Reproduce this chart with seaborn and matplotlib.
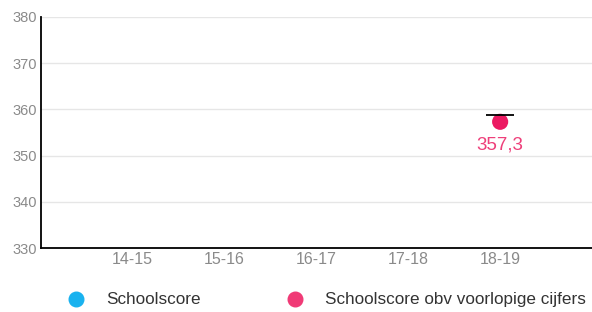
import numpy as np
import pandas as pd
import matplotlib.pyplot as plt
import seaborn as sns
from matplotlib.lines import Line2D

# Data
seasons = ['14-15', '15-16', '16-17', '17-18', '18-19']
schoolscore = [np.nan, np.nan, np.nan, np.nan, np.nan]
voorlopig = [np.nan, np.nan, np.nan, np.nan, 357.3]
benchmark = [np.nan, np.nan, np.nan, np.nan, 358.8]
y_ticks = [330, 340, 350, 360, 370, 380]

blue = '#19b2ef'
pink = '#ec1a62'

df = pd.DataFrame({'pos': range(len(seasons)), 'season': seasons,
                   'schoolscore': schoolscore, 'voorlopig': voorlopig,
                   'benchmark': benchmark})

sns.set_style('white')
plt.rcParams['font.family'] = ['Liberation Sans', 'DejaVu Sans']

fig = plt.figure(figsize=(5.92, 3.12), dpi=100)
ax = fig.add_axes([0.069, 0.205, 0.931, 0.741])

ax.set_ylim(330, 380)
ax.set_xlim(-1, 5)
ax.set_yticks(y_ticks)
ax.set_xticks(df['pos'])
ax.set_xticklabels(seasons)
ax.yaxis.grid(True, color='#e6e6e6', linewidth=1)
ax.set_axisbelow(True)

sns.scatterplot(data=df, x='pos', y='schoolscore', color=blue, s=135,
                edgecolor='none', ax=ax, legend=False)
sns.scatterplot(data=df, x='pos', y='voorlopig', color=pink, s=135,
                edgecolor='none', ax=ax, legend=False, zorder=3)
sns.scatterplot(data=df, x='pos', y='benchmark', color='black', marker='_',
                s=400, linewidth=1.3, ax=ax, legend=False, zorder=4)

for _, r in df.dropna(subset=['voorlopig']).iterrows():
    ax.annotate(f"{r['voorlopig']:.1f}".replace('.', ','), (r['pos'], r['voorlopig']),
                xytext=(0, -10.5), textcoords='offset points', ha='center', va='top',
                color='#ee3f7a', fontsize=13.5)

ax.set_xlabel('')
ax.set_ylabel('')
for s in ['top', 'right']:
    ax.spines[s].set_visible(False)
for s in ['left', 'bottom']:
    ax.spines[s].set_color('black')
    ax.spines[s].set_linewidth(1.3)
ax.tick_params(axis='both', length=0, labelcolor='#8a8a8a')
ax.tick_params(axis='y', labelsize=10.5, pad=3)
ax.tick_params(axis='x', labelsize=11.5, pad=3)

handles = [
    Line2D([], [], marker='o', linestyle='', color=blue, markersize=10.5, label='Schoolscore'),
    Line2D([], [], marker='o', linestyle='', color='#f03a76', markersize=10.5,
           label='Schoolscore obv voorlopige cijfers'),
]
fig.legend(handles=handles, loc='center left', bbox_to_anchor=(0.1142, 0.0385), ncol=2,
           frameon=False, fontsize=12.3, handletextpad=1.25, columnspacing=5.0,
           labelcolor='#333333', borderpad=0, borderaxespad=0, handlelength=1)

fig.savefig('out.png', dpi=100)
